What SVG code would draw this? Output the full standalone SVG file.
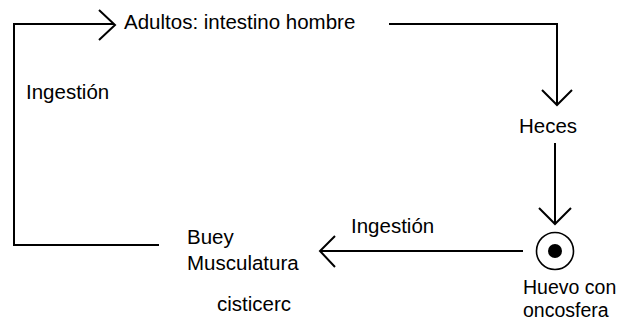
<svg xmlns="http://www.w3.org/2000/svg" width="629" height="322" viewBox="0 0 629 322">
<style>
.t{font-family:"Liberation Sans",Arial,sans-serif;font-size:20.5px;fill:#000}
.s{font-size:19.5px}
.c{fill:none;stroke:#000;stroke-width:2}
</style>
<rect width="629" height="322" fill="#fff"/>
<g id="connectors" class="c">
<path d="M159,245 H14 V24 H114"/>
<path d="M99,10 L115,25 L99,40"/>
<path d="M389,24 H557 V105"/>
<path d="M542,90 L557,105 L572,90"/>
<path d="M555,143 V224"/>
<path d="M539,208 L555,224 L571,208"/>
<path d="M523,251 H320"/>
<path d="M335,236 L320,251 L335,267"/>
</g>
<g id="adultos"><text class="t" x="124" y="29">Adultos: intestino hombre</text></g>
<g id="ingestion1"><text class="t" x="26" y="99">Ingestión</text></g>
<g id="heces"><text class="t" x="519" y="133">Heces</text></g>
<g id="huevo">
<circle cx="555" cy="251" r="18.5" fill="none" stroke="#000" stroke-width="1.6"/>
<circle cx="555" cy="251" r="7" fill="#000"/>
<text class="t s" x="523" y="294">Huevo con</text>
<text class="t s" x="523" y="316.5">oncosfera</text>
</g>
<g id="ingestion2"><text class="t" x="351" y="233">Ingestión</text></g>
<g id="buey">
<text class="t" x="187" y="244">Buey</text>
<text class="t" x="187" y="270">Musculatura</text>
<text class="t" x="217" y="311">cisticerc</text>
</g>
</svg>
